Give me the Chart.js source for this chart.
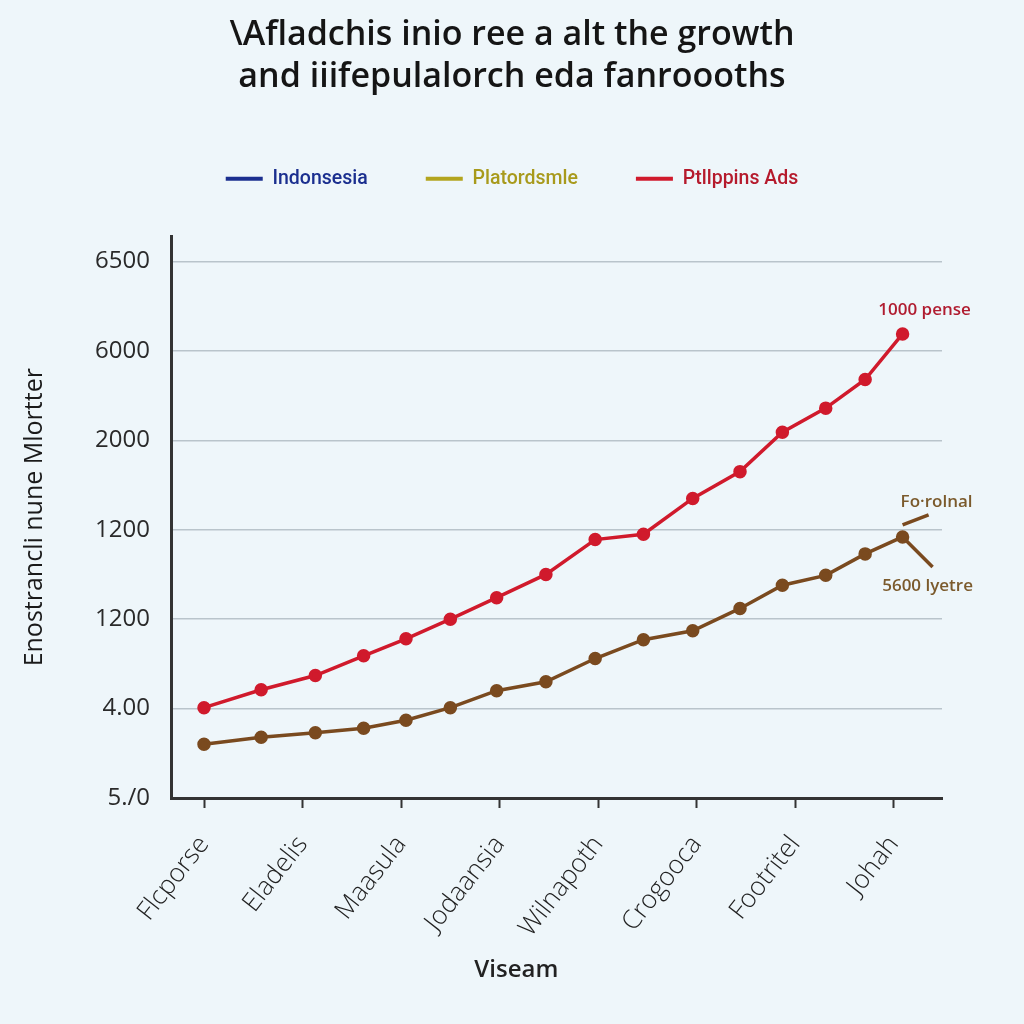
<!DOCTYPE html>
<html>
<head>
<meta charset="utf-8">
<script src="https://cdn.jsdelivr.net/npm/chart.js@4.4.1/dist/chart.umd.min.js"></script>
<style>
  html, body { margin: 0; padding: 0; background: #eef6fa; }
  #wrap { width: 1024px; height: 1024px; }
</style>
</head>
<body>
<div id="wrap"><canvas id="c" width="1024" height="1024"></canvas></div>
<script>
// ---- data ----
const titleLines = ["\\Afladchis inio ree a alt the growth", "and iiifepulalorch eda fanroooths"];
const seriesNames = ["Indonsesia", "Platordsmle", "Ptllppins Ads", "Fo·rolnal"];
const seriesColors = ["#1b2f8f", "#b3a51e", "#d01a2c", "#7a4a1f"];
const legendTextColors = ["#1b2f8f", "#a89a1c", "#b51a2c"];
const categories = ["Flcporse", "Eladelis", "Maasula", "Jodaansia", "Wilnapoth", "Crogooca", "Footritel", "Johah"];
const categoryPositions = [0, 1, 2, 3, 4, 5, 6, 7];
const pointPositions = [0, 0.58, 1.13, 1.62, 2.05, 2.5, 2.97, 3.47, 3.97, 4.46, 4.96, 5.44, 5.87, 6.31, 6.71, 7.09];
const redValues = [1.01, 1.21, 1.37, 1.59, 1.78, 2.0, 2.24, 2.5, 2.89, 2.95, 3.35, 3.65, 4.09, 4.36, 4.68, 5.19];
const brownValues = [0.6, 0.68, 0.73, 0.78, 0.87, 1.01, 1.2, 1.3, 1.56, 1.77, 1.87, 2.12, 2.38, 2.49, 2.73, 2.92];
const yTickLabels = ["5./0", "4.00", "1200", "1200", "2000", "6000", "6500"];
const yTickLevels = [0, 1, 2, 3, 4, 5, 6];
const xAxisTitle = "Viseam";
const yAxisTitle = "Enostrancli nune Mlortter";
const redNote = "1000 pense";
const brownNoteTop = "Fo·rolnal";
const brownNoteBottom = "5600 lyetre";

const toPoints = vals => vals.map((v, i) => ({ x: pointPositions[i], y: v }));

const bgPlugin = {
  id: 'bg',
  beforeDraw(chart) {
    const ctx = chart.ctx;
    ctx.save();
    ctx.fillStyle = '#eef6fa';
    ctx.fillRect(0, 0, chart.width, chart.height);
    ctx.restore();
  }
};

const notesPlugin = {
  id: 'notes',
  afterDatasetsDraw(chart) {
    const ctx = chart.ctx;
    const red = chart.getDatasetMeta(2).data;
    const brown = chart.getDatasetMeta(3).data;
    const rp = red[red.length - 1];
    const bp = brown[brown.length - 1];
    ctx.save();
    ctx.textAlign = 'center';
    ctx.textBaseline = 'middle';
    ctx.font = '600 17px "Open Sans", sans-serif';
    ctx.fillStyle = '#b01c30';
    ctx.fillText(redNote, rp.x + 22, rp.y - 24);
    ctx.fillStyle = '#7b5a2c';
    ctx.fillText(brownNoteTop, bp.x + 34, bp.y - 35);
    ctx.fillText(brownNoteBottom, bp.x + 25, bp.y + 49);
    ctx.strokeStyle = '#7a4a1f';
    ctx.lineWidth = 3.5;
    ctx.beginPath();
    ctx.moveTo(bp.x, bp.y - 12);
    ctx.lineTo(bp.x + 26, bp.y - 22);
    ctx.moveTo(bp.x, bp.y);
    ctx.lineTo(bp.x + 30, bp.y + 30);
    ctx.stroke();
    // x axis title
    const xs = chart.scales.x;
    ctx.font = '600 24px "Open Sans", sans-serif';
    ctx.fillStyle = '#222';
    ctx.fillText(xAxisTitle, xs.getPixelForValue(3.17), 970);
    ctx.restore();
  }
};

const mkDs = (i, vals) => ({
  label: seriesNames[i],
  data: vals ? toPoints(vals) : [],
  borderColor: seriesColors[i],
  backgroundColor: seriesColors[i],
  pointBackgroundColor: seriesColors[i],
  pointBorderColor: seriesColors[i],
  borderWidth: 3.5,
  pointRadius: 5,
  tension: 0
});

new Chart(document.getElementById('c'), {
  type: 'line',
  data: {
    datasets: [mkDs(0), mkDs(1), mkDs(2, redValues), mkDs(3, brownValues)]
  },
  plugins: [bgPlugin, notesPlugin],
  options: {
    responsive: false,
    animation: false,
    devicePixelRatio: 1,
    layout: { padding: { top: 0, bottom: 0, left: 0, right: 0 } },
    plugins: {
      title: {
        display: true,
        text: titleLines,
        color: '#151515',
        font: { family: '"Open Sans", sans-serif', size: 34, weight: 600, lineHeight: 1.22 },
        padding: { top: 15, bottom: 13 }
      },
      legend: {
        display: true,
        labels: {
          boxWidth: 37,
          boxHeight: 4,
          padding: 58,
          font: { family: 'Roboto, sans-serif', size: 19.5, weight: 500 },
          filter: item => item.datasetIndex < 3,
          generateLabels(chart) {
            const items = Chart.defaults.plugins.legend.labels.generateLabels(chart);
            items.forEach(it => { it.lineWidth = 0; it.fontColor = legendTextColors[it.datasetIndex]; });
            return items;
          }
        }
      },
      tooltip: { enabled: false }
    },
    scales: {
      x: {
        type: 'linear',
        min: -0.335,
        max: 7.49,
        afterBuildTicks(s) { s.ticks = categoryPositions.map(v => ({ value: v })); },
        afterFit(s) { s.height = 226; },
        grid: { display: true, drawOnChartArea: false, drawTicks: true, tickLength: 10, tickColor: '#333', tickWidth: 2 },
        border: { display: true, color: '#333', width: 3 },
        ticks: {
          autoSkip: false,
          minRotation: 52,
          maxRotation: 52,
          padding: 22,
          color: '#222',
          font: { family: '"Open Sans", sans-serif', size: 26, weight: 300 },
          callback: (v, i) => categories[i]
        }
      },
      x2: {
        type: 'linear',
        position: 'top',
        display: true,
        afterFit(s) { s.height = 38; },
        grid: { display: false },
        border: { display: false },
        ticks: { display: false }
      },
      y: {
        type: 'linear',
        min: 0,
        max: 6.28,
        afterBuildTicks(s) { s.ticks = yTickLevels.map(v => ({ value: v })); },
        afterFit(s) { s.width = 171; },
        grid: { display: true, color: '#b9c4cb', lineWidth: 1.5, drawTicks: false },
        border: { display: true, color: '#333', width: 3 },
        ticks: {
          padding: 21,
          color: '#2a2a2a',
          font: { family: '"Open Sans", sans-serif', size: 24 },
          callback: (v, i) => yTickLabels[i]
        },
        title: {
          display: true,
          text: yAxisTitle,
          color: '#1a1a1a',
          font: { family: '"Open Sans", sans-serif', size: 25, weight: 500 },
          padding: { top: 20, bottom: 0 }
        }
      },
      y2: {
        type: 'linear',
        position: 'right',
        display: true,
        afterFit(s) { s.width = 82; },
        grid: { display: false },
        border: { display: false },
        ticks: { display: false }
      }
    }
  }
});
</script>
</body>
</html>
